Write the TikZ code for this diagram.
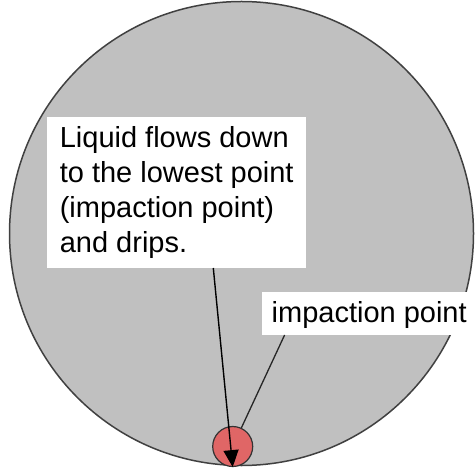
\documentclass[tikz,border=0pt]{standalone}
\usepackage{fontspec}
\setmainfont{Liberation Sans}
\usetikzlibrary{arrows.meta,calc}
\definecolor{drumgray}{HTML}{C0C0C0}
\definecolor{edgegray}{HTML}{404040}
\definecolor{droplet}{HTML}{E06666}
\tikzset{
  drumstyle/.style={circle, draw=edgegray, line width=1.5pt, fill=drumgray, minimum size=464pt, inner sep=0pt},
  dropstyle/.style={circle, draw=black!80, line width=1.2pt, fill=droplet, minimum size=40pt, inner sep=0pt},
  labelbox/.style={rectangle, fill=white, draw=none, inner ysep=0pt, font=\fontsize{29}{35}\selectfont},
  pointer/.style={line width=1.3pt, draw=black!85},
  arrowline/.style={line width=1.4pt, -{Triangle[width=15pt,length=17pt]}}
}
\begin{document}
\begin{tikzpicture}[x=1pt,y=-1pt]
\useasboundingbox (0,0) rectangle (476,470);
\node[drumstyle] (drum) at (241.5,233.5) {};
\node[dropstyle] (drop) at (232.7,446.5) {};
\node[labelbox, anchor=north west, minimum width=259pt, minimum height=151pt,
      inner xsep=12pt, align=left] (box1) at (47,117)
  {Liquid flows down\\to the lowest point\\(impaction point)\\and drips.};
\node[labelbox, anchor=north west, minimum width=214pt, minimum height=43pt,
      inner xsep=0pt, text height=22pt, text depth=5pt] (box2) at (262,292) {impaction point};
\coordinate (a1) at (213.3,268);
\coordinate (c2) at (284.6,335);
\draw[pointer] (c2) -- (drop);
\draw[arrowline] (a1) -- (drop.south);
\end{tikzpicture}
\end{document}
